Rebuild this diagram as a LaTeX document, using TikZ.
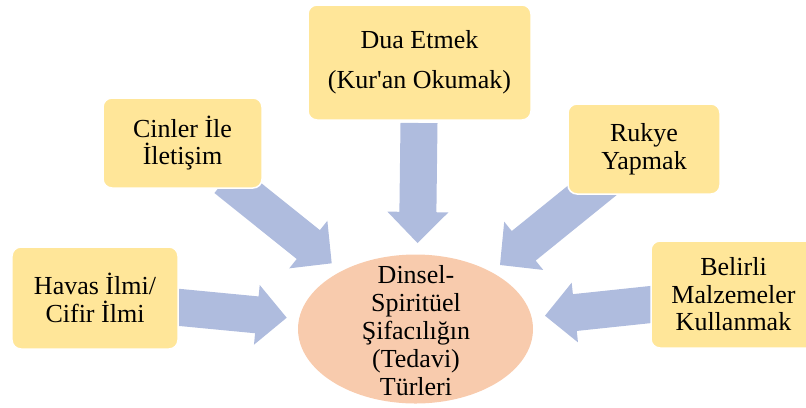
\documentclass[tikz,border=0pt]{standalone}
\usepackage{fontspec}
\setmainfont{Liberation Serif}[Ligatures=TeXOff]
\usetikzlibrary{calc}

\definecolor{boxyellow}{HTML}{FFE699}
\definecolor{arrowblue}{HTML}{AFBCDE}
\definecolor{corepeach}{HTML}{F8CBAD}

\tikzset{
  itembox/.style={fill=boxyellow, draw=white, line width=1.5bp,
    rounded corners=9bp, inner sep=0pt, align=center,
    font=\fontsize{26bp}{27.5bp}\selectfont},
  coretext/.style={align=center, inner sep=0pt,
    font=\fontsize{26bp}{28bp}\selectfont},
  blockarrow/.style={fill=arrowblue, draw=none}
}

% block arrow from coordinate #1 to tip #2
% #3 half shaft width, #4 half head width, #5 head length
\newcommand\blockarrow[5]{%
  \coordinate (hb) at ($(#2)!#5!(#1)$);
  \fill[blockarrow]
    ($(#1)!#3!90:(#2)$) -- ($(hb)!#3!90:(#2)$) -- ($(hb)!#4!90:(#2)$)
    -- (#2) -- ($(hb)!#4!-90:(#2)$) -- ($(hb)!#3!-90:(#2)$)
    -- ($(#1)!#3!-90:(#2)$) -- cycle;
}

\begin{document}
\begin{tikzpicture}[x=1bp, y=-1bp]
  \useasboundingbox (0,0) rectangle (806,407);
  \clip (0,0) rectangle (806,407);

  % anchor points of the arrows
  \coordinate (sTop) at (419,123);
  \coordinate (tTop) at (417.5,243);
  \coordinate (sCin) at (226,178.6);
  \coordinate (tCin) at (331.7,263.3);
  \coordinate (sHav) at (170,306.5);
  \coordinate (tHav) at (286.7,317.7);
  \coordinate (sRuk) at (610,176);
  \coordinate (tRuk) at (500,265);
  \coordinate (sBel) at (665,303);
  \coordinate (tBel) at (545,315.7);

  % arrows (drawn first, boxes lie over their tails)
  \blockarrow{sTop}{tTop}{18.5bp}{30.5bp}{31bp}
  \blockarrow{sCin}{tCin}{18.5bp}{30.5bp}{30bp}
  \blockarrow{sHav}{tHav}{18.5bp}{30bp}{30bp}
  \blockarrow{sRuk}{tRuk}{19bp}{31bp}{30.5bp}
  \blockarrow{sBel}{tBel}{18.5bp}{30bp}{30bp}

  % central ellipse
  \fill[corepeach] (415.5,329) ellipse [x radius=117.5, y radius=74.5];
  \node[coretext] (core) at (416,331)
    {Dinsel-\\Spiritüel\\Şifacılığın\\(Tedavi)\\Türleri};

  % surrounding boxes
  \node[itembox, minimum width=223bp, minimum height=115bp] (dua) at (419.5,62.5)
    {Dua Etmek\\[12.5bp](Kur'an Okumak)};
  \node[itembox, minimum width=159bp, minimum height=90bp] (cinler) at (182.5,143)
    {Cinler İle\\İletişim};
  \node[itembox, minimum width=152bp, minimum height=90bp] (rukye) at (644,149)
    {Rukye\\Yapmak};
  \node[itembox, minimum width=166bp, minimum height=102bp] (havas) at (95,298)
    {Havas İlmi/\\Cifir İlmi};
  \node[itembox, minimum width=165bp, minimum height=107bp] (belirli) at (733.5,294.5)
    {Belirli\\Malzemeler\\Kullanmak};
\end{tikzpicture}
\end{document}
